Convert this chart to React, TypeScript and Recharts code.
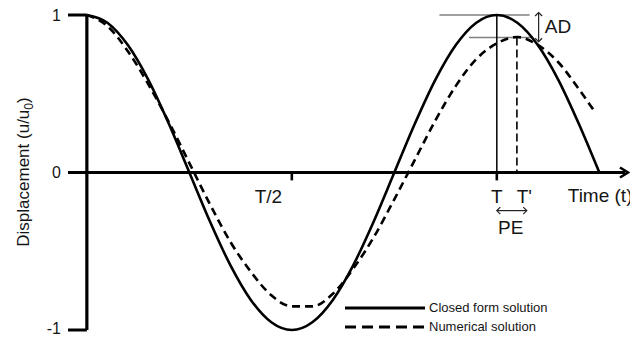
import React from 'react';
import {
  LineChart,
  Line,
  XAxis,
  YAxis,
  ReferenceLine,
  ReferenceDot,
} from 'recharts';

// time in units of the period T
const times = [
  0, 0.05, 0.1, 0.15, 0.2, 0.25, 0.3, 0.35, 0.4, 0.45, 0.5, 0.55, 0.6,
  0.65, 0.7, 0.75, 0.8, 0.85, 0.9, 0.95, 1.0, 1.05, 1.1, 1.15, 1.2, 1.25,
];
const closedForm = [
  1.0, 0.951, 0.809, 0.588, 0.309, 0, -0.309, -0.588, -0.809, -0.951, -1.0,
  -0.951, -0.809, -0.588, -0.309, 0, 0.309, 0.588, 0.809, 0.951, 1.0, 0.951,
  0.809, 0.588, 0.309, 0,
];

const numTimes = [
  0, 0.05, 0.1, 0.15, 0.2, 0.25, 0.3, 0.35, 0.4, 0.45, 0.5, 0.55, 0.6,
  0.65, 0.7, 0.75, 0.8, 0.85, 0.9, 0.95, 1.0, 1.05, 1.1, 1.15, 1.2, 1.235,
];
const numerical = [
  1.0, 0.93, 0.77, 0.56, 0.32, 0.06, -0.2, -0.44, -0.63, -0.78, -0.85, -0.85,
  -0.77, -0.61, -0.41, -0.17, 0.08, 0.33, 0.55, 0.72, 0.82, 0.86, 0.81, 0.7,
  0.53, 0.4,
];

const yTicks = [-1, 0, 1];
const seriesNames = ['Closed form solution', 'Numerical solution'];

// annotation positions (time / displacement)
const T_PRIME = 1.049;
const PEAK_NUM = 0.857;
const X_MIN = -0.046;
const X_MAX = 1.32;

const closedData = times.map((t, i) => ({ t, u: closedForm[i] }));
const numData = numTimes.map((t, i) => ({ t, u: numerical[i] }));

const FONT = '"Liberation Sans", Arial, sans-serif';
const INK = '#151515';

const AxisArrow = (p: any) => {
  const { x1, y1, x2 } = p;
  return (
    <g>
      <line x1={x1} y1={y1} x2={x2 - 3} y2={y1} stroke="#000" strokeWidth={3.2} />
      <polyline
        points={`${x2 - 8},${y1 - 5} ${x2},${y1} ${x2 - 8},${y1 + 5}`}
        fill="none"
        stroke="#000"
        strokeWidth={2.6}
      />
    </g>
  );
};

const DoubleArrow = (p: any) => {
  const { x1, y1, x2, y2 } = p;
  const vertical = Math.abs(x2 - x1) < Math.abs(y2 - y1);
  const h = 3.5;
  const heads = vertical
    ? [
        `${x1 - h},${y1 + h} ${x1},${y1} ${x1 + h},${y1 + h}`,
        `${x2 - h},${y2 - h} ${x2},${y2} ${x2 + h},${y2 - h}`,
      ]
    : [
        `${x1 + h},${y1 - h} ${x1},${y1} ${x1 + h},${y1 + h}`,
        `${x2 - h},${y2 - h} ${x2},${y2} ${x2 - h},${y2 + h}`,
      ];
  return (
    <g stroke="#222" strokeWidth={1.2} fill="none">
      <line x1={x1} y1={y1} x2={x2} y2={y2} />
      {heads.map((pts) => (
        <polyline key={pts} points={pts} />
      ))}
    </g>
  );
};

const YTick = (p: any) => {
  const { x, y, payload } = p;
  return (
    <text
      x={x}
      y={y}
      dy={payload.value === -1 ? 4 : 5.5}
      textAnchor="end"
      fontFamily={FONT}
      fontSize={16}
      fill={INK}
    >
      {payload.value}
    </text>
  );
};

const YTitle = () => (
  <text
    transform="translate(29,172) rotate(-90)"
    textAnchor="middle"
    fontFamily={FONT}
    fontSize={17}
    fill={INK}
  >
    Displacement (u/u
    <tspan fontSize={12} dy={4}>0</tspan>
    <tspan dy={-4}>)</tspan>
  </text>
);

// legend drawn as a plain overlay so it takes no room from the plot
const LegendBox = () => (
  <div
    style={{
      position: 'absolute',
      left: 345,
      top: 298,
      fontFamily: FONT,
      fontSize: 13,
      color: INK,
    }}
  >
    {seriesNames.map((name, i) => (
      <div key={name} style={{ display: 'flex', alignItems: 'center', height: 19 }}>
        <svg width={84} height={10}>
          <line
            x1={0}
            y1={5}
            x2={80}
            y2={5}
            stroke="#000"
            strokeWidth={3}
            strokeDasharray={i === 1 ? '11 6' : undefined}
          />
        </svg>
        <span>{name}</span>
      </div>
    ))}
  </div>
);

const textLabel = (value: string, size = 19) => ({
  value,
  position: 'center' as const,
  fontSize: size,
  fontFamily: FONT,
  fill: INK,
});

export default function App() {
  return (
    <div style={{ position: 'absolute', left: 0, top: 0, width: 630, height: 338, background: '#fff' }}>
      <LineChart
        width={630}
        height={338}
        margin={{ top: 15, right: 2, bottom: 8, left: 0 }}
      >
        <XAxis type="number" dataKey="t" domain={[X_MIN, X_MAX]} hide allowDataOverflow />
        <YAxis
          type="number"
          domain={[-1, 1]}
          ticks={yTicks}
          interval={0}
          width={68}
          axisLine={false}
          tickLine={false}
          tickSize={0}
          tickMargin={7}
          tick={YTick}
          label={{ content: () => <YTitle /> }}
        />

        {/* axes */}
        <ReferenceLine x={0} stroke="#000" strokeWidth={3.2} />
        <ReferenceLine
          segment={[{ x: X_MIN, y: 0 }, { x: X_MAX, y: 0 }]}
          shape={AxisArrow}
          ifOverflow="visible"
        />
        <ReferenceLine segment={[{ x: X_MIN, y: 1 }, { x: 0, y: 1 }]} stroke="#000" strokeWidth={3} />
        <ReferenceLine segment={[{ x: X_MIN, y: -1 }, { x: 0, y: -1 }]} stroke="#000" strokeWidth={3} />
        <ReferenceLine segment={[{ x: 0.5, y: 0 }, { x: 0.5, y: -0.05 }]} stroke="#000" strokeWidth={2.6} />
        <ReferenceLine segment={[{ x: 1, y: 0 }, { x: 1, y: -0.05 }]} stroke="#000" strokeWidth={2.6} />

        {/* amplitude / period markers */}
        <ReferenceLine segment={[{ x: 0.86, y: 1 }, { x: 1.08, y: 1 }]} stroke="#808080" strokeWidth={1.5} />
        <ReferenceLine
          segment={[{ x: 0.932, y: PEAK_NUM }, { x: 1.088, y: PEAK_NUM }]}
          stroke="#808080"
          strokeWidth={1.5}
        />
        <ReferenceLine segment={[{ x: 1, y: 1 }, { x: 1, y: 0 }]} stroke="#000" strokeWidth={1.5} />
        <ReferenceLine
          segment={[{ x: T_PRIME, y: PEAK_NUM }, { x: T_PRIME, y: 0 }]}
          stroke="#000"
          strokeWidth={1.6}
          strokeDasharray="8 4"
        />
        <ReferenceLine
          segment={[{ x: 1.102, y: 1.016 }, { x: 1.102, y: 0.83 }]}
          shape={DoubleArrow}
          ifOverflow="visible"
        />
        <ReferenceLine
          segment={[{ x: 1.0, y: -0.242 }, { x: 1.073, y: -0.242 }]}
          shape={DoubleArrow}
        />

        {/* text annotations */}
        <ReferenceDot x={0.443} y={-0.152} r={0} fill="none" stroke="none" label={textLabel('T/2')} />
        <ReferenceDot x={1.0} y={-0.152} r={0} fill="none" stroke="none" label={textLabel('T')} />
        <ReferenceDot x={1.067} y={-0.152} r={0} fill="none" stroke="none" label={textLabel("T'")} />
        <ReferenceDot x={1.034} y={-0.35} r={0} fill="none" stroke="none" label={textLabel('PE')} />
        <ReferenceDot
          x={1.173}
          y={-0.146}
          r={0}
          fill="none"
          stroke="none"
          label={{ ...textLabel('Time (t)'), position: 'right', offset: 0 }}
        />
        <ReferenceDot
          x={1.117}
          y={0.927}
          r={0}
          fill="none"
          stroke="none"
          label={{ ...textLabel('AD'), position: 'right', offset: 0 }}
        />

        <Line
          data={closedData}
          dataKey="u"
          name={seriesNames[0]}
          type="monotone"
          stroke="#000"
          strokeWidth={2.6}
          dot={false}
          isAnimationActive={false}
        />
        <Line
          data={numData}
          dataKey="u"
          name={seriesNames[1]}
          type="monotone"
          stroke="#000"
          strokeWidth={2.6}
          strokeDasharray="8 5"
          dot={false}
          isAnimationActive={false}
        />
      </LineChart>
      <LegendBox />
    </div>
  );
}
